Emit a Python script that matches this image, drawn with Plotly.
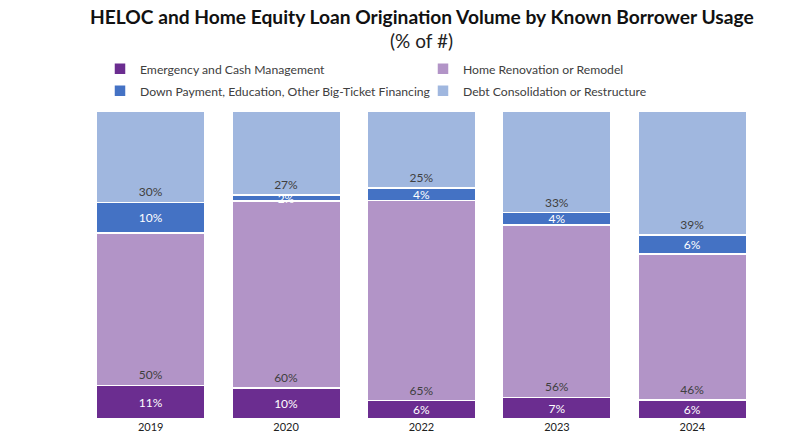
import plotly.graph_objects as go

years = ["2019", "2020", "2022", "2023", "2024"]
emergency = [11, 10, 6, 7, 6]
renovation = [50, 60, 65, 56, 46]
down_payment = [10, 2, 4, 4, 6]
debt = [30, 27, 25, 33, 39]

series = [
    ("Emergency and Cash Management", emergency, "#6B2D90", "white", "middle"),
    ("Home Renovation or Remodel", renovation, "#B294C7", "#404040", "start"),
    ("Down Payment, Education, Other Big-Ticket Financing", down_payment, "#4472C4", "white", "middle"),
    ("Debt Consolidation or Restructure", debt, "#A0B7DF", "#404040", "start"),
]

# one legend per entry so the 2x2 grid sits exactly where the original has it
legend_ids = ["legend", "legend2", "legend3", "legend4"]
legend_pos = [(100, 67), (423, 67), (100, 90), (423, 90)]  # pixel x, row y

fig = go.Figure()
for (name, vals, color, tcolor, anchor), lid in zip(series, legend_ids):
    fig.add_trace(go.Bar(
        x=years, y=vals, name=name, legend=lid,
        marker=dict(color=color, line=dict(color="white", width=1.5)),
        text=[f"{v}%" for v in vals],
        textposition="inside", insidetextanchor=anchor,
        constraintext="none",
        textfont=dict(color=tcolor, size=12, family="Lato"),
        hoverinfo="x+y+name",
    ))

# plot area: x 83..760, y 111..432 (pixels) -> paper coords
def px_(x):
    return (x - 83) / 677

def py(y):
    return (432 - y) / 321

fig.add_annotation(
    text="<b>HELOC and Home Equity Loan Origination Volume by Known Borrower Usage</b>",
    xref="paper", yref="paper", x=0.5, y=py(13),
    xanchor="center", yanchor="middle", showarrow=False,
    font=dict(size=19.2, color="#111111", family="Lato"),
)
fig.add_annotation(
    text="(% of #)",
    xref="paper", yref="paper", x=0.5, y=py(38),
    xanchor="center", yanchor="middle", showarrow=False,
    font=dict(size=19, color="#222222", family="Lato"),
)

legends = {}
for lid, (lx, ly) in zip(legend_ids, legend_pos):
    legends[lid] = dict(
        orientation="h", xref="paper", yref="paper",
        x=px_(lx), xanchor="left", y=py(ly), yanchor="middle",
        font=dict(size=12.2, color="#404040"),
        bgcolor="rgba(0,0,0,0)",
    )

fig.update_layout(
    barmode="stack", barnorm="percent", bargap=0.2,
    width=800, height=445,
    margin=dict(l=83, r=40, t=111, b=13),
    plot_bgcolor="white", paper_bgcolor="white",
    font=dict(family="Lato", color="#404040"),
    showlegend=True,
    **legends,
)
fig.update_xaxes(showline=False, ticks="", tickfont=dict(size=11, color="#222222"))
fig.update_yaxes(visible=False, range=[0, 100])

# drop the browser's default 8px body margin so the figure sits at (0, 0)
fig.write_html("out.html", config={"displayModeBar": False},
               post_script="document.body.style.margin='0';")
